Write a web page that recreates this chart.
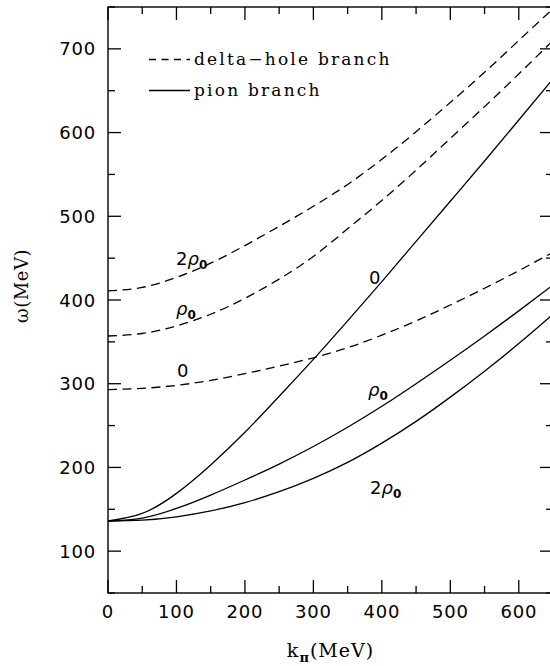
<!DOCTYPE html>
<html lang="en">
  <head>
    <meta charset="utf-8" />
    <title>Pion and delta-hole branches</title>
    <style>
      body {
        margin: 0;
        background-color: #fff;
        overflow: hidden;
      }
      svg {
        display: block;
      }
    </style>
  </head>

  <body>
    <div class="container"></div>
    <script src="https://cdn.jsdelivr.net/npm/d3@7"></script>
    <script>
      // Data: k_pi (MeV) vs omega (MeV)
      const kValues = [0, 50, 100, 150, 200, 250, 300, 350, 400, 450, 500, 550, 600, 650];

      const deltaHole0 = [293, 294.5, 298, 304, 312, 321, 331, 343, 358, 375, 394, 414, 435, 457];
      const deltaHoleRho = [357, 360, 369, 383, 402, 425, 452, 485, 519, 555, 593, 631, 670, 710];
      const deltaHole2Rho = [411, 415, 427, 444, 465, 488, 512, 538, 568, 601, 636, 672, 710, 748];

      const pion0 = [136, 145, 169, 203, 242, 285, 329, 375, 422, 470, 518, 566, 615, 664];
      const pionRho = [136, 139.5, 151, 167, 185, 204, 225, 248, 273, 300, 328, 357, 387, 418];
      const pion2Rho = [136, 137, 141, 148, 158, 171, 187, 206, 229, 255, 284, 315, 348, 383];

      const xTicks = [0, 100, 200, 300, 400, 500, 600];
      const yTicks = [100, 200, 300, 400, 500, 600, 700];

      const width = 550;
      const height = 666;
      const margin = { top: 7, right: -3, bottom: 73, left: 108 };

      const svg = d3
        .select('div.container')
        .append('svg')
        .attr('width', width)
        .attr('height', height);

      const x = d3
        .scaleLinear()
        .domain([0, 650])
        .range([margin.left, width - margin.right]);
      const y = d3
        .scaleLinear()
        .domain([50, 750])
        .range([height - margin.bottom, margin.top]);

      const x0 = x.range()[0];
      const x1 = x.range()[1];
      const y0 = y.range()[0];
      const y1 = y.range()[1];

      svg
        .append('clipPath')
        .attr('id', 'plot-clip')
        .append('rect')
        .attr('x', x0)
        .attr('y', y1)
        .attr('width', x1 - x0)
        .attr('height', y0 - y1);

      // Frame
      svg
        .append('rect')
        .attr('x', x0)
        .attr('y', y1)
        .attr('width', x1 - x0)
        .attr('height', y0 - y1)
        .attr('fill', 'none')
        .attr('stroke', '#000')
        .attr('stroke-width', 1.4);

      // Ticks on all four sides, pointing inward
      const major = 13;
      const minor = 7;
      const xt = d3.range(0, 651, 50);
      const yt = d3.range(50, 751, 50);
      const ticks = svg.append('g').attr('stroke', '#000').attr('stroke-width', 1.3);

      xt.forEach((v) => {
        const len = v % 100 === 0 ? major : minor;
        ticks.append('line').attr('x1', x(v)).attr('x2', x(v)).attr('y1', y0).attr('y2', y0 - len);
        ticks.append('line').attr('x1', x(v)).attr('x2', x(v)).attr('y1', y1).attr('y2', y1 + len);
      });
      yt.forEach((v) => {
        const len = v % 100 === 0 ? major : minor;
        ticks.append('line').attr('x1', x0).attr('x2', x0 + len).attr('y1', y(v)).attr('y2', y(v));
        ticks.append('line').attr('x1', x1).attr('x2', x1 - len).attr('y1', y(v)).attr('y2', y(v));
      });

      // Tick labels
      const tickFont = "'DejaVu Sans', sans-serif";
      svg
        .append('g')
        .selectAll('text')
        .data(xTicks)
        .join('text')
        .attr('x', (d) => x(d))
        .attr('y', y0 + 25)
        .attr('text-anchor', 'middle')
        .style('font-family', tickFont)
        .style('font-size', '18px')
        .style('letter-spacing', '0.8px')
        .text((d) => d);

      svg
        .append('g')
        .selectAll('text')
        .data(yTicks)
        .join('text')
        .attr('x', x0 - 12)
        .attr('y', (d) => y(d) + 6.5)
        .attr('text-anchor', 'end')
        .style('font-family', tickFont)
        .style('font-size', '18px')
        .style('letter-spacing', '0.8px')
        .text((d) => d);

      // Axis titles
      const serif = "'DejaVu Serif', serif";
      const xTitle = svg
        .append('text')
        .attr('x', (x0 + x1) / 2)
        .attr('y', 657)
        .attr('text-anchor', 'middle')
        .style('font-family', serif)
        .style('font-size', '19px')
        .style('letter-spacing', '1px');
      xTitle.append('tspan').text('k');
      xTitle
        .append('tspan')
        .attr('dy', 5)
        .style('font-size', '13px')
        .style('font-weight', 'bold')
        .text('π');
      xTitle.append('tspan').attr('dy', -5).text('(MeV)');

      svg
        .append('text')
        .attr('transform', 'translate(28,286) rotate(-90)')
        .attr('text-anchor', 'middle')
        .style('font-family', serif)
        .style('font-size', '18px')
        .style('letter-spacing', '0.5px')
        .text('ω(MeV)');

      // Curves
      const line = d3
        .line()
        .x((d, i) => x(kValues[i]))
        .y((d) => y(d))
        .curve(d3.curveNatural);

      const curves = [
        { values: deltaHole0, dashed: true },
        { values: deltaHoleRho, dashed: true },
        { values: deltaHole2Rho, dashed: true },
        { values: pion0, dashed: false },
        { values: pionRho, dashed: false },
        { values: pion2Rho, dashed: false },
      ];

      svg
        .append('g')
        .attr('clip-path', 'url(#plot-clip)')
        .selectAll('path')
        .data(curves)
        .join('path')
        .attr('d', (d) => line(d.values))
        .attr('fill', 'none')
        .attr('stroke', '#000')
        .attr('stroke-width', 1.3)
        .attr('stroke-dasharray', (d) => (d.dashed ? '9,5.5' : null));

      // Curve labels
      const labelFont = "'DejaVu Sans', sans-serif";
      const curveLabels = [
        { px: 176, py: 265, coef: '2', rho: true },
        { px: 176, py: 315, coef: '', rho: true },
        { px: 177, py: 377, coef: '0', rho: false },
        { px: 369, py: 284, coef: '0', rho: false },
        { px: 368, py: 396, coef: '', rho: true },
        { px: 370, py: 494, coef: '2', rho: true },
      ];

      curveLabels.forEach((l) => {
        const t = svg
          .append('text')
          .attr('x', l.px)
          .attr('y', l.py)
          .style('font-family', labelFont)
          .style('font-size', '18px');
        if (l.coef) t.append('tspan').text(l.coef);
        if (l.rho) {
          t.append('tspan').style('font-style', 'italic').text('ρ');
          t.append('tspan')
            .attr('dy', 4)
            .style('font-size', '12px')
            .style('font-weight', 'bold')
            .text('0');
        }
      });

      // Legend
      const legend = [
        { label: 'delta\u2212hole branch', dashed: true, ly: 59.5 },
        { label: 'pion branch', dashed: false, ly: 90.5 },
      ];
      legend.forEach((d) => {
        svg
          .append('line')
          .attr('x1', 149)
          .attr('x2', 190)
          .attr('y1', d.ly)
          .attr('y2', d.ly)
          .attr('stroke', '#000')
          .attr('stroke-width', 1.3)
          .attr('stroke-dasharray', d.dashed ? '7,5.5' : null);
        svg
          .append('text')
          .attr('x', 194)
          .attr('y', d.ly + 5)
          .style('font-family', serif)
          .style('font-size', '17px')
          .style('letter-spacing', '2.2px')
          .text(d.label);
      });
    </script>
  </body>
</html>
